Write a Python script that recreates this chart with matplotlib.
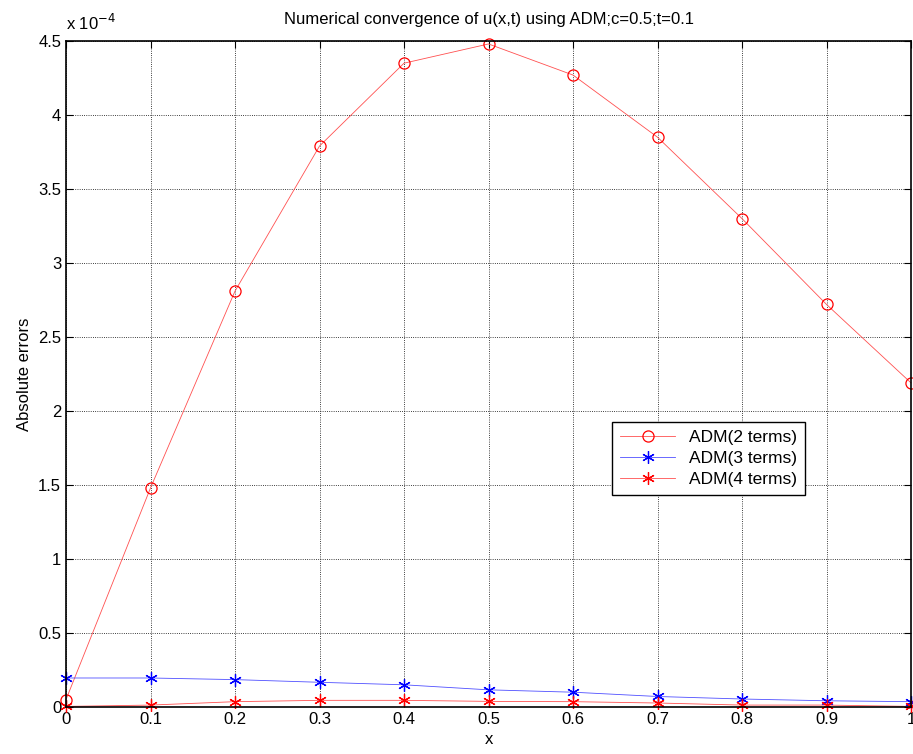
import matplotlib
matplotlib.use("Agg")
import matplotlib.pyplot as plt

plt.rcParams.update({"font.family": ["Liberation Sans", "DejaVu Sans"], "font.size": 10.5})

# data in units of 1e-4
x = [0, 0.1, 0.2, 0.3, 0.4, 0.5, 0.6, 0.7, 0.8, 0.9, 1.0]
adm2 = [0.05, 1.48, 2.81, 3.79, 4.35, 4.48, 4.27, 3.85, 3.30, 2.72, 2.19]
adm3 = [0.196, 0.196, 0.185, 0.167, 0.150, 0.116, 0.100, 0.071, 0.054, 0.042, 0.036]
adm4 = [0.004, 0.013, 0.036, 0.045, 0.045, 0.038, 0.036, 0.027, 0.013, 0.013, 0.004]
xticks = [0, 0.1, 0.2, 0.3, 0.4, 0.5, 0.6, 0.7, 0.8, 0.9, 1]
yticks = [0, 0.5, 1, 1.5, 2, 2.5, 3, 3.5, 4, 4.5]

fig = plt.figure(figsize=(9.13, 7.54), dpi=100)
ax = fig.add_axes([66 / 913, 1 - 707 / 754, (911 - 66) / 913, (707 - 41) / 754])

star = (6, 2, 0)
ax.plot(x, adm2, "-o", color="#ff5050", lw=0.6, ms=8, mfc="none", mec="red", mew=0.9,
        label="ADM(2 terms)", clip_on=False)
ax.plot(x, adm3, "-", marker=star, color="#5050ff", lw=0.6, ms=9, mec="blue", mew=0.9,
        label="ADM(3 terms)", clip_on=False)
ax.plot(x, adm4, "-", marker=star, color="#ff5050", lw=0.6, ms=9, mec="red", mew=0.9,
        label="ADM(4 terms)", clip_on=False)

ax.set_xlim(0, 1)
ax.set_ylim(0, 4.5)
ax.set_xticks(xticks)
ax.set_xticklabels(["0", "0.1", "0.2", "0.3", "0.4", "0.5", "0.6", "0.7", "0.8", "0.9", "1"])
ax.set_yticks(yticks)
ax.set_yticklabels(["0", "0.5", "1", "1.5", "2", "2.5", "3", "3.5", "4", "4.5"])
ax.tick_params(direction="in", top=True, right=True, length=5, width=0.8, labelsize=12)
ax.grid(True, color="black", linestyle=":", lw=0.6)
for s in ax.spines.values():
    s.set_linewidth(1.2)

ax.set_xlabel("x", fontsize=12)
ax.set_ylabel("Absolute errors", fontsize=12)
ax.set_title("Numerical convergence of u(x,t) using ADM;c=0.5;t=0.1", fontsize=12, pad=12)
ax.text(0, 1.012, r"x 10$^{-4}$", transform=ax.transAxes, fontsize=12,
        ha="left", va="bottom")

leg = ax.legend(loc="upper left", bbox_to_anchor=((612 - 66) / 845, (707 - 422) / 666),
                fontsize=12.5, fancybox=False, framealpha=1, edgecolor="black",
                borderaxespad=0, handlelength=3.2, labelspacing=0.35, borderpad=0.45)
leg.get_frame().set_linewidth(1.0)

fig.savefig("out.png", dpi=100)
